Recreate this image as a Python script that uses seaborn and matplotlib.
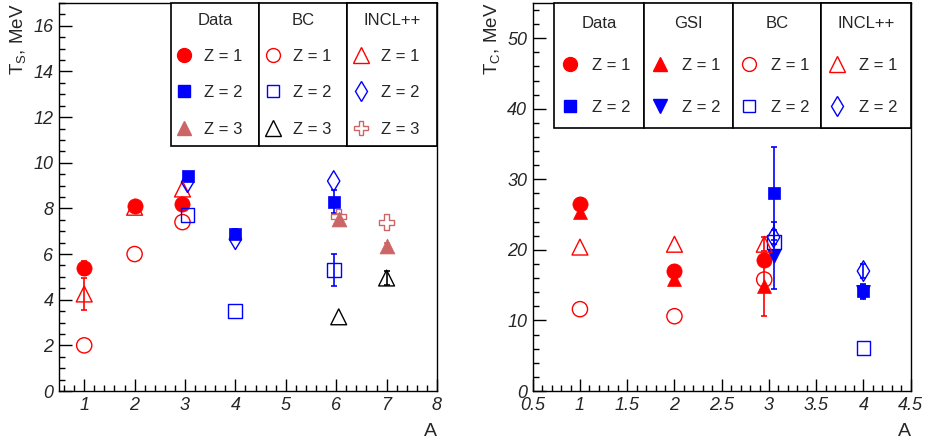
import numpy as np
import seaborn as sns
import matplotlib.pyplot as plt
from matplotlib.lines import Line2D

# ---- left panel: slope temperature T_S vs A ----
ts_data_z1_A = [1, 2, 2.95]
ts_data_z1_T = [5.4, 8.1, 8.2]
ts_data_z1_err = [0.3, 0.2, 0.2]
ts_data_z2_A = [3.05, 4, 5.95]
ts_data_z2_T = [9.4, 6.9, 8.3]
ts_data_z2_err = [0.2, 0.2, 0.5]
ts_data_z3_A = [6.05, 7]
ts_data_z3_T = [7.55, 6.35]
ts_data_z3_err = [0.2, 0.15]
ts_bc_z1_A = [1, 2, 2.95]
ts_bc_z1_T = [2.0, 6.0, 7.4]
ts_bc_z2_A = [3.05, 4, 5.95]
ts_bc_z2_T = [7.7, 3.5, 5.3]
ts_bc_z2_err = [0, 0, 0.7]
ts_bc_z3_A = [6.05, 7]
ts_bc_z3_T = [3.25, 4.95]
ts_bc_z3_err = [0, 0.3]
ts_incl_z1_A = [1, 2, 2.95]
ts_incl_z1_T = [4.25, 8.05, 8.85]
ts_incl_z1_err = [0.7, 0, 0]
ts_incl_z2_A = [3.05, 4, 5.95]
ts_incl_z2_T = [9.15, 6.65, 9.2]
ts_incl_z3_A = [6.05, 7]
ts_incl_z3_T = [7.65, 7.4]

# ---- right panel: T_C vs A ----
tc_data_z1_A = [1, 2, 2.95]
tc_data_z1_T = [26.5, 17.0, 18.6]
tc_data_z1_err = [0.8, 0.8, 0.8]
tc_data_z2_A = [3.05, 4]
tc_data_z2_T = [28.0, 14.2]
tc_data_z2_err = [6.6, 1.0]
tc_gsi_z1_A = [1, 2, 2.95]
tc_gsi_z1_T = [25.4, 15.9, 14.9]
tc_gsi_z1_err = [0.5, 0.5, 4.3]
tc_gsi_z2_A = [3.05, 4]
tc_gsi_z2_T = [19.2, 14.0]
tc_gsi_z2_err = [4.7, 1.0]
tc_bc_z1_A = [1, 2, 2.95]
tc_bc_z1_T = [11.6, 10.6, 15.8]
tc_bc_z2_A = [3.05, 4]
tc_bc_z2_T = [21.1, 6.1]
tc_incl_z1_A = [1, 2, 2.95]
tc_incl_z1_T = [20.4, 20.8, 20.8]
tc_incl_z1_err = [0, 0, 1.0]
tc_incl_z2_A = [3.05, 4]
tc_incl_z2_T = [21.8, 17.0]
tc_incl_z2_err = [1.0, 1.0]

z_labels = ["Z = 1", "Z = 2", "Z = 3"]

RED, BLUE, ROSE, BLACK = "#ff0000", "#0000ff", "#cc6666", "#000000"

sns.set_theme(style="ticks")
plt.rcParams["font.family"] = ["Liberation Sans", "DejaVu Sans"]
plt.rcParams["mathtext.default"] = "regular"

fig = plt.figure(figsize=(9.38, 4.44), dpi=100)
axL = fig.add_axes([59 / 938, 53 / 444, 378 / 938, 388 / 444])
axR = fig.add_axes([532.7 / 938, 53 / 444, 378 / 938, 388 / 444])


def draw(ax, A, T, marker, color, filled, size, err=None):
    if err is not None:
        A_e = np.asarray(A, dtype=float)
        T_e = np.asarray(T, dtype=float)
        e = np.asarray(err, dtype=float)
        keep = e > 0
        ax.errorbar(A_e[keep], T_e[keep], yerr=e[keep], fmt="none", ecolor=color,
                    elinewidth=1.2, capsize=2.5, capthick=1.2, zorder=2)
    sns.scatterplot(x=A, y=T, ax=ax, marker=marker, s=size,
                    color=color, edgecolor=color,
                    facecolor=color if filled else "none",
                    linewidth=1.0 if not filled else 0.5, zorder=3, legend=False)


def handle(marker, color, filled, ms):
    return Line2D([], [], linestyle="none", marker=marker, markersize=ms,
                  color=color, markeredgecolor=color,
                  markerfacecolor=color if filled else "none",
                  markeredgewidth=1.0)


# left panel series
draw(axL, ts_data_z1_A, ts_data_z1_T, "o", RED, True, 120, ts_data_z1_err)
draw(axL, ts_data_z2_A, ts_data_z2_T, "s", BLUE, True, 85, ts_data_z2_err)
draw(axL, ts_data_z3_A, ts_data_z3_T, "^", ROSE, True, 115, ts_data_z3_err)
draw(axL, ts_bc_z1_A, ts_bc_z1_T, "o", RED, False, 120)
draw(axL, ts_bc_z2_A, ts_bc_z2_T, "s", BLUE, False, 100, ts_bc_z2_err)
draw(axL, ts_bc_z3_A, ts_bc_z3_T, "^", BLACK, False, 130, ts_bc_z3_err)
draw(axL, ts_incl_z1_A, ts_incl_z1_T, "^", RED, False, 130, ts_incl_z1_err)
draw(axL, ts_incl_z2_A, ts_incl_z2_T, "d", BLUE, False, 110)
draw(axL, ts_incl_z3_A, ts_incl_z3_T, "P", ROSE, False, 120)

# right panel series
draw(axR, tc_data_z1_A, tc_data_z1_T, "o", RED, True, 120, tc_data_z1_err)
draw(axR, tc_data_z2_A, tc_data_z2_T, "s", BLUE, True, 85, tc_data_z2_err)
draw(axR, tc_gsi_z1_A, tc_gsi_z1_T, "^", RED, True, 100, tc_gsi_z1_err)
draw(axR, tc_gsi_z2_A, tc_gsi_z2_T, "v", BLUE, True, 100, tc_gsi_z2_err)
draw(axR, tc_bc_z1_A, tc_bc_z1_T, "o", RED, False, 120)
draw(axR, tc_bc_z2_A, tc_bc_z2_T, "s", BLUE, False, 100)
draw(axR, tc_incl_z1_A, tc_incl_z1_T, "^", RED, False, 130, tc_incl_z1_err)
draw(axR, tc_incl_z2_A, tc_incl_z2_T, "d", BLUE, False, 110, tc_incl_z2_err)

# axes cosmetics (ROOT-like)
xt_L = np.arange(1, 9)
yt_L = np.arange(0, 17, 2)
xt_R = np.arange(0.5, 4.51, 0.5)
yt_R = np.arange(0, 51, 10)
axL.set_xlim(0.5, 8)
axL.set_ylim(0, 17)
axR.set_xlim(0.5, 4.5)
axR.set_ylim(0, 55)

for ax, xt, yt, xm, ym in [
    (axL, xt_L, yt_L, np.arange(0.6, 8.0, 0.2), np.arange(0, 17.01, 0.5)),
    (axR, xt_R, yt_R, np.arange(0.5, 4.51, 0.1), np.arange(0, 55.01, 2)),
]:
    ax.set_xticks(xt, [f"{v:g}" for v in xt], fontstyle="italic", fontsize=13)
    ax.set_yticks(yt, [f"{v:g}" for v in yt], fontstyle="italic", fontsize=13)
    ax.set_xticks(xm, minor=True)
    ax.set_yticks(ym, minor=True)
    ax.tick_params(which="both", direction="in", top=False, right=False,
                   color="black", width=1.0)
    ax.tick_params(which="major", length=9, pad=4)
    ax.tick_params(which="minor", length=4.5)
    for sp in ax.spines.values():
        sp.set_visible(True)
        sp.set_color("black")
        sp.set_linewidth(1.0)
    ax.set_xlabel("A", loc="right", fontsize=14, labelpad=7)
    ax.grid(False)

axL.set_ylabel(r"T$_{S}$, MeV", loc="top", fontsize=13.5, labelpad=4)
axR.set_ylabel(r"T$_{C}$, MeV", loc="top", fontsize=13.5, labelpad=4)


def legend_column(ax, x0, w, title, handles, labels, lspace, bpad, hpad):
    leg = ax.legend(handles, labels, title=title, loc="upper left",
                    bbox_to_anchor=(x0, 0, w, 1), bbox_transform=ax.transAxes,
                    mode="expand", borderaxespad=0, borderpad=bpad,
                    labelspacing=lspace, handlelength=0.4, handletextpad=hpad,
                    fontsize=12, title_fontsize=12, frameon=True,
                    fancybox=False, edgecolor="black", framealpha=1)
    leg.get_frame().set_linewidth(1.2)
    leg.set_zorder(10)
    ax.add_artist(leg)


ms = 10
legend_column(axL, 0.2955, 0.2345, "Data",
              [handle("o", RED, True, ms), handle("s", BLUE, True, 8.5), handle("^", ROSE, True, ms)],
              z_labels, 1.27, 0.6, 1.0)
legend_column(axL, 0.530, 0.2327, "BC",
              [handle("o", RED, False, ms), handle("s", BLUE, False, 9), handle("^", BLACK, False, 11)],
              z_labels, 1.27, 0.6, 1.0)
legend_column(axL, 0.7627, 0.2373, "INCL++",
              [handle("^", RED, False, 11), handle("d", BLUE, False, ms), handle("P", ROSE, False, 10.5)],
              z_labels, 1.27, 0.6, 1.0)

legend_column(axR, 0.057, 0.2382, "Data",
              [handle("o", RED, True, ms), handle("s", BLUE, True, 8.5)],
              z_labels[:2], 1.64, 0.75, 1.1)
legend_column(axR, 0.2952, 0.2355, "GSI",
              [handle("^", RED, True, ms), handle("v", BLUE, True, ms)],
              z_labels[:2], 1.64, 0.75, 1.1)
legend_column(axR, 0.5307, 0.2320, "BC",
              [handle("o", RED, False, ms), handle("s", BLUE, False, 9)],
              z_labels[:2], 1.64, 0.75, 1.1)
legend_column(axR, 0.7627, 0.2373, "INCL++",
              [handle("^", RED, False, 11), handle("d", BLUE, False, ms)],
              z_labels[:2], 1.64, 0.75, 1.1)

fig.savefig("out.png", dpi=100, facecolor="white")
